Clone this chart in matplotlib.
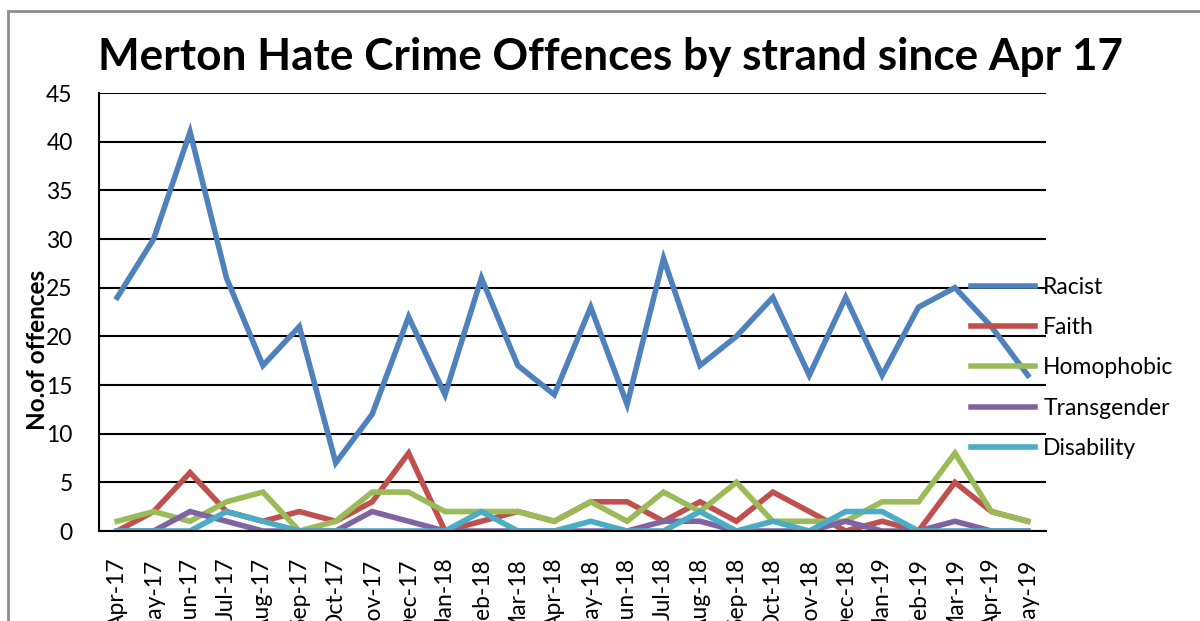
import numpy as np
import matplotlib.pyplot as plt
from matplotlib.patches import Rectangle

months = ['Apr-17', 'May-17', 'Jun-17', 'Jul-17', 'Aug-17', 'Sep-17', 'Oct-17', 'Nov-17',
          'Dec-17', 'Jan-18', 'Feb-18', 'Mar-18', 'Apr-18', 'May-18', 'Jun-18', 'Jul-18',
          'Aug-18', 'Sep-18', 'Oct-18', 'Nov-18', 'Dec-18', 'Jan-19', 'Feb-19', 'Mar-19',
          'Apr-19', 'May-19']

racist = [24, 30, 41, 26, 17, 21, 7, 12, 22, 14, 26, 17, 14, 23, 13, 28, 17, 20, 24, 16, 24, 16, 23, 25, 21, 16]
faith = [0, 2, 6, 2, 1, 2, 1, 3, 8, 0, 1, 2, 1, 3, 3, 1, 3, 1, 4, 2, 0, 1, 0, 5, 2, 1]
homophobic = [1, 2, 1, 3, 4, 0, 1, 4, 4, 2, 2, 2, 1, 3, 1, 4, 2, 5, 1, 1, 1, 3, 3, 8, 2, 1]
transgender = [0, 0, 2, 1, 0, 0, 0, 2, 1, 0, 0, 0, 0, 0, 0, 1, 1, 0, 0, 0, 1, 0, 0, 1, 0, 0]
disability = [0, 0, 0, 2, 1, 0, 0, 0, 0, 0, 2, 0, 0, 1, 0, 0, 2, 0, 1, 0, 2, 2, 0, 0, 0, 0]

series = [('Racist', racist, '#4F81BD'),
          ('Faith', faith, '#C0504D'),
          ('Homophobic', homophobic, '#9BBB59'),
          ('Transgender', transgender, '#8064A2'),
          ('Disability', disability, '#4BACC6')]

plt.rcParams['font.family'] = ['Lato', 'DejaVu Sans']

fig = plt.figure(figsize=(12, 6.21), dpi=100)
ax = fig.add_axes([99 / 1200, 1 - 531 / 621, 947 / 1200, 438 / 621])

x = np.arange(len(months))
for name, vals, col in series:
    ax.plot(x, vals, color=col, lw=4.0, label=name, solid_joinstyle='miter')

ax.set_xlim(-0.5, len(months) - 0.5)
ax.set_ylim(0, 45)
ax.set_yticks(range(0, 46, 5))
ax.yaxis.grid(True, color='black', lw=1.5)
ax.set_axisbelow(True)
for s in ['top', 'right']:
    ax.spines[s].set_visible(False)
ax.spines['left'].set_linewidth(1.5)
ax.spines['bottom'].set_linewidth(1.5)
ax.tick_params(axis='y', length=0, pad=19, labelsize=16.5)
ax.set_xticks(x)
# labels run off the bottom edge, as in the original
ax.set_xticklabels(months, rotation=90, fontsize=16.5)
ax.tick_params(axis='x', length=0, pad=19)

fig.text(98 / 1200, 1 - 57 / 621, 'Merton Hate Crime Offences by strand since Apr 17',
         fontsize=31.8, fontweight='bold', va='center', ha='left')
fig.text(38 / 1200, 1 - 350 / 621, 'No.of offences', rotation=90, fontsize=17.5,
         fontweight='bold', va='center', ha='center')

fig.legend(loc='center left', bbox_to_anchor=(971 / 1200, 1 - 368 / 621), frameon=False,
           fontsize=16.5, handlelength=2.8, handletextpad=0.35, labelspacing=0.85,
           borderpad=0, borderaxespad=0)

fig.patches.append(Rectangle((8 / 1200, -0.1), 1.2, 1 - 11 / 621 + 0.1, transform=fig.transFigure,
                             fill=False, edgecolor='#8c8c8c', lw=2))

fig.savefig('out.png', dpi=100)
